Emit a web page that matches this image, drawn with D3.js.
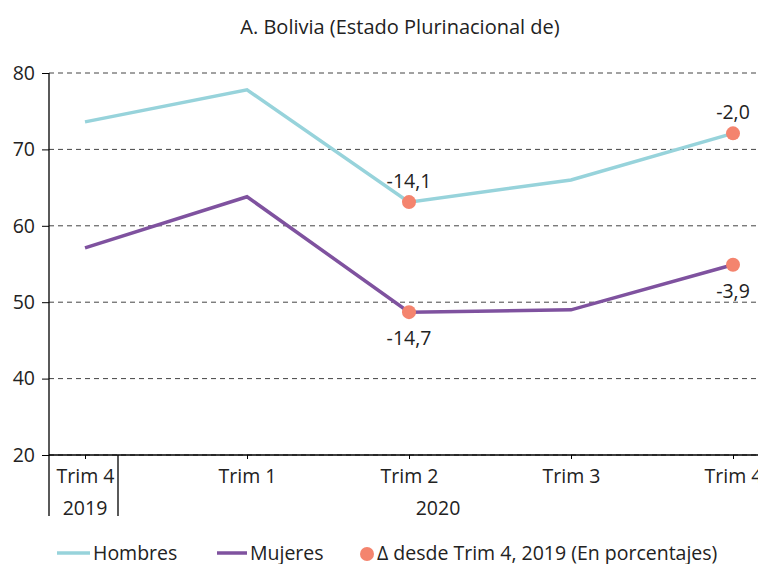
<!DOCTYPE html>
<html>
<head>
<meta charset="utf-8">
<script src="https://cdn.jsdelivr.net/npm/d3@7"></script>
<style>
  body { margin: 0; background: #fff; }
  text { font-family: "Open Sans", "Noto Sans", sans-serif; fill: #222; }
</style>
</head>
<body>
<div class="visHolder"></div>
<script>
const categories = ["Trim 4", "Trim 1", "Trim 2", "Trim 3", "Trim 4 "];
const catLabels = ["Trim 4", "Trim 1", "Trim 2", "Trim 3", "Trim 4"];
const hombres = [73.6, 77.8, 63.1, 66.0, 72.1];
const mujeres = [57.1, 63.8, 48.7, 49.0, 54.9];
const hombresDelta = [null, null, "-14,1", null, "-2,0"];
const mujeresDelta = [null, null, "-14,7", null, "-3,9"];
const yTicks = [30, 40, 50, 60, 70, 80];
const yTickLabels = ["20", "40", "50", "60", "70", "80"];
const years = ["2019", "2020"];

const w = 758;
const h = 564;
const plotLeft = 49, plotTop = 73, plotBottom = 455;
const fs = "19.5px";

const colH = "#97d3db";
const colM = "#7f529f";
const colDot = "#f4846e";

const svg = d3.select(".visHolder").append("svg")
    .attr("width", w)
    .attr("height", h);

svg.append("text")
    .attr("x", 400)
    .attr("y", 34)
    .attr("text-anchor", "middle")
    .style("font-size", "20px")
    .text("A. Bolivia (Estado Plurinacional de)");

const xScale = d3.scalePoint()
    .domain(categories)
    .range([85, 733]);

const yScale = d3.scaleLinear()
    .domain([30, 80])
    .range([plotBottom, plotTop]);

// grid
svg.append("g")
    .selectAll("line")
    .data(yTicks)
    .enter()
    .append("line")
    .attr("x1", plotLeft)
    .attr("x2", w)
    .attr("y1", d => yScale(d))
    .attr("y2", d => yScale(d))
    .attr("stroke", "#444")
    .attr("stroke-width", 1)
    .attr("stroke-dasharray", "5,4");

// y axis
const yAxis = d3.axisLeft(yScale)
    .tickValues(yTicks)
    .tickFormat((d, i) => yTickLabels[i])
    .tickSize(7)
    .tickPadding(7);

const gy = svg.append("g")
    .attr("transform", `translate(${plotLeft},0)`)
    .call(yAxis);
gy.select(".domain").remove();
gy.selectAll(".tick line").attr("stroke", "#000");
gy.selectAll(".tick text").style("font-size", fs).attr("fill", "#222");

svg.append("line")
    .attr("x1", plotLeft).attr("x2", plotLeft)
    .attr("y1", plotTop).attr("y2", 516)
    .attr("stroke", "#000").attr("stroke-width", 1.3);

// x axis
const xAxis = d3.axisBottom(xScale)
    .tickFormat((d, i) => catLabels[i])
    .tickSize(4)
    .tickPadding(10);

const gx = svg.append("g")
    .attr("transform", `translate(0,${plotBottom})`)
    .call(xAxis);
gx.select(".domain").remove();
gx.selectAll(".tick line").attr("stroke", "#000");
gx.selectAll(".tick text").style("font-size", fs).attr("fill", "#222");

svg.append("line")
    .attr("x1", plotLeft).attr("x2", w)
    .attr("y1", plotBottom).attr("y2", plotBottom)
    .attr("stroke", "#000").attr("stroke-width", 1.3);

svg.append("line")
    .attr("x1", 118).attr("x2", 118)
    .attr("y1", plotBottom).attr("y2", 516)
    .attr("stroke", "#000").attr("stroke-width", 1.3);

svg.selectAll(".year")
    .data(years)
    .enter()
    .append("text")
    .attr("class", "year")
    .attr("x", (d, i) => i === 0 ? xScale(categories[0]) : (118 + w) / 2)
    .attr("y", 515)
    .attr("text-anchor", "middle")
    .style("font-size", fs)
    .text(d => d);

// lines
const line = d3.line()
    .x((d, i) => xScale(categories[i]))
    .y(d => yScale(d));

svg.append("path")
    .datum(hombres)
    .attr("d", line)
    .attr("fill", "none")
    .attr("stroke", colH)
    .attr("stroke-width", 3.5);

svg.append("path")
    .datum(mujeres)
    .attr("d", line)
    .attr("fill", "none")
    .attr("stroke", colM)
    .attr("stroke-width", 3.5);

// delta markers
const marks = [];
hombresDelta.forEach((d, i) => { if (d) marks.push({ i, v: hombres[i], label: d, dy: -14 }); });
mujeresDelta.forEach((d, i) => { if (d) marks.push({ i, v: mujeres[i], label: d, dy: 33 }); });

svg.selectAll(".dot")
    .data(marks)
    .enter()
    .append("circle")
    .attr("class", "dot")
    .attr("cx", d => xScale(categories[d.i]))
    .attr("cy", d => yScale(d.v))
    .attr("r", 7)
    .attr("fill", colDot);

svg.selectAll(".dlabel")
    .data(marks)
    .enter()
    .append("text")
    .attr("class", "dlabel")
    .attr("x", d => xScale(categories[d.i]))
    .attr("y", d => yScale(d.v) + d.dy)
    .attr("text-anchor", "middle")
    .style("font-size", fs)
    .text(d => d.label);

// legend
const lg = svg.append("g").attr("transform", "translate(0,553)");
lg.append("line").attr("x1", 57).attr("x2", 90).attr("y1", 0).attr("y2", 0)
    .attr("stroke", colH).attr("stroke-width", 3.5);
lg.append("text").attr("x", 93).attr("y", 7).style("font-size", fs).text("Hombres");
lg.append("line").attr("x1", 217).attr("x2", 247).attr("y1", 0).attr("y2", 0)
    .attr("stroke", colM).attr("stroke-width", 3.5);
lg.append("text").attr("x", 250).attr("y", 7).style("font-size", fs).text("Mujeres");
lg.append("circle").attr("cx", 367).attr("cy", 1).attr("r", 7).attr("fill", colDot);
lg.append("text").attr("x", 377).attr("y", 7).style("font-size", fs)
    .text("Δ desde Trim 4, 2019 (En porcentajes)");
</script>
</body>
</html>
